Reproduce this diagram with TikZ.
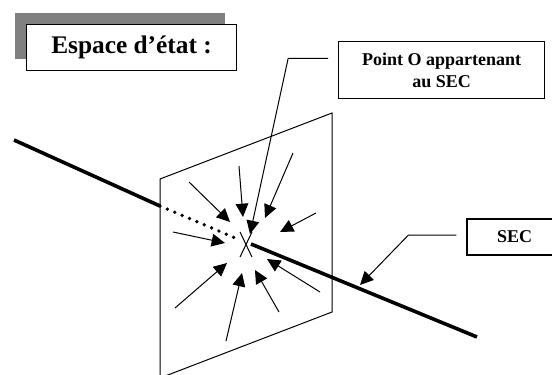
\documentclass[tikz,border=0pt]{standalone}
\usepackage{fontspec}
\setmainfont{Liberation Serif}
\usetikzlibrary{arrows.meta,shadows,positioning}
\tikzstyle{every node}=[draw=black,line width=0.8pt,fill=white,inner sep=2pt]

\begin{document}
\begin{tikzpicture}[x=0.75pt,y=-0.75pt,
    titlebox/.style={
        minimum width=158pt,
        minimum height=35pt,
        font=\fontsize{19}{23}\selectfont\bfseries,
        drop shadow={shadow xshift=-8.6pt,shadow yshift=8.5pt,fill=black!50,opacity=1}},
    labelbox/.style={
        align=center,
        font=\fontsize{13.5}{16}\selectfont\bfseries},
    leader/.style={line width=0.75pt,-{Triangle[length=10pt,width=9.5pt]}},
    force/.style={line width=0.75pt,-{Triangle[length=10pt,width=9.5pt]}},
    sec/.style={line width=2.7pt},
    secdots/.style={line width=2.8pt,line cap=round,dash pattern=on 0pt off 6pt},
  ]
  \useasboundingbox (0,0) rectangle (552,374);
  \clip (0,0) rectangle (552,374);
  % Plane
  \draw[line width=0.75pt] (160,179) -- (332,113) -- (332,312) -- (160,378) -- cycle;
  % Point O
  \coordinate (O) at (246,244);
  \coordinate (tipO) at (250,234);
  \coordinate (tipSEC) at (360,285);
  \draw[line width=0.75pt] ([shift={(-6,-12)}]O) -- ([shift={(6,13)}]O)
                           ([shift={(6,-12)}]O) -- ([shift={(-6,13)}]O);
  % SEC
  \draw[sec] (14,140) -- (160,206);
  \draw[secdots] (160,206) -- (240,240);
  \draw[sec] (251,244) -- (477,337);
  % Forces towards O
  \draw[force] (189,182) -- (230,222);
  \draw[force] (239,166) -- (243,217);
  \draw[force] (293,153) -- (265,218);
  \draw[force] (316,213) -- (280,232);
  \draw[force] (173,232) -- (225,243);
  \draw[force] (175,308) -- (227,263);
  \draw[force] (226,341) -- (242,273);
  \draw[force] (279,312) -- (255,270);
  \draw[force] (320,292) -- (267,259);
  % Labels
  \node[titlebox] (title) at (131.5,47.5) {Espace d'état :};
  \node[labelbox,minimum width=154.5pt,minimum height=42.75pt] (pointO) at (441.7,70.2) {Point O appartenant\\au SEC};
  \node[labelbox,minimum width=71.25pt,minimum height=27pt] (secbox) at (514.5,237) {SEC};
  \draw[leader] ([xshift=-7.5pt,yshift=8.9pt]pointO.west) -- ++(-40,0) -- (tipO);
  \draw[leader] ([xshift=-7.5pt,yshift=1.5pt]secbox.west) -- ++(-48,0) -- (tipSEC);
\end{tikzpicture}
\end{document}
